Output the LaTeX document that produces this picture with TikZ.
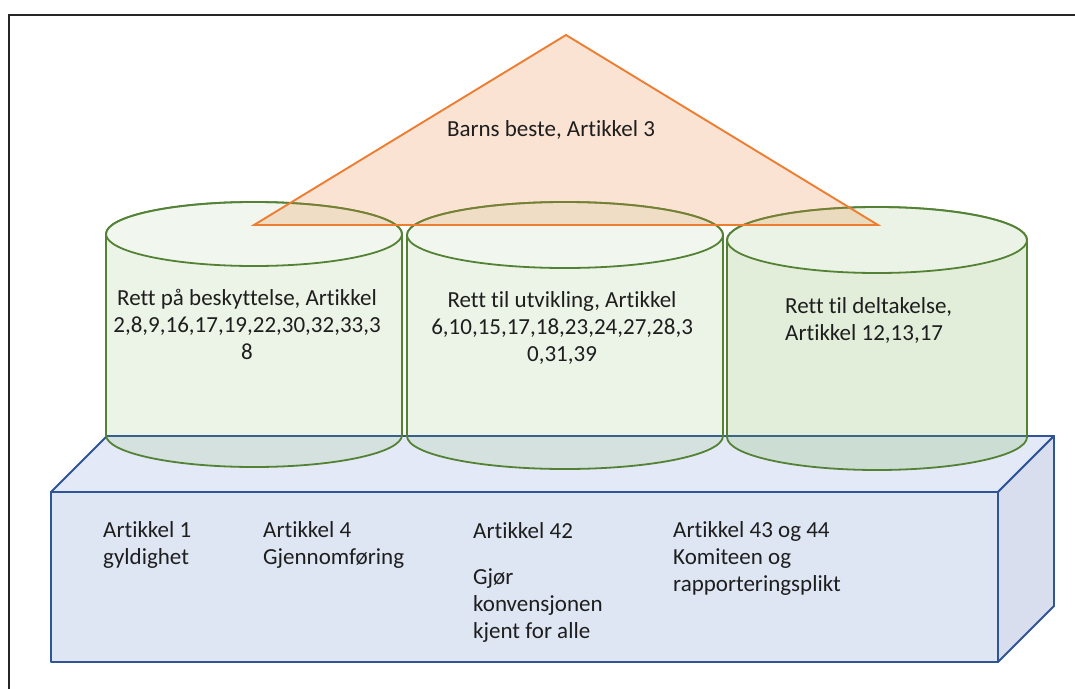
\documentclass[tikz,border=0pt]{standalone}
\usepackage{fontspec}
\setmainfont{Carlito}[Ligatures=NoCommon]
\definecolor{cylline}{RGB}{84,130,53}
\definecolor{cylfill}{RGB}{112,173,71}
\definecolor{boxline}{RGB}{47,85,151}
\definecolor{boxfront}{RGB}{222,229,243}
\definecolor{boxtop}{RGB}{227,233,246}
\definecolor{boxside}{RGB}{217,222,238}
\definecolor{triline}{RGB}{237,125,49}
\definecolor{txt}{RGB}{30,30,30}
\begin{document}
\begin{tikzpicture}[x=1pt,y=-1pt,
  frame/.style={line width=1.8pt,black!85},
  boxface/.style={draw=boxline,line width=1.9pt,line join=round},
  cylbody/.style={draw=cylline,line width=1.8pt,fill=cylfill,fill opacity=#1},
  cylbody/.default=0.13,
  cyltop/.style={draw=cylline,line width=1.8pt,fill=white,fill opacity=0.3},
  tri/.style={draw=triline,line width=1.9pt,fill=triline,fill opacity=0.21,line join=miter},
  lbl/.style={inner sep=0pt,text=txt,font=\fontsize{23}{27}\selectfont},
]
\useasboundingbox (0,0) rectangle (1075,688);
\fill[white] (0,0) rectangle (1075,688);
% frame
\coordinate (fbl) at (9,700);
\coordinate (ftl) at (9,15);
\coordinate (ftr) at (1080,15);
\draw[frame] (fbl) -- (ftl) -- (ftr);

% base box
\coordinate (bfl) at (51,492);
\coordinate (bfr) at (998,492);
\coordinate (bbl) at (51,662);
\coordinate (bbr) at (998,662);
\coordinate (bkl) at (107,436);
\coordinate (bkr) at (1054,436);
\coordinate (bsr) at (1054,606);
\path[boxface,fill=boxtop] (bfl) -- (bkl) -- (bkr) -- (bfr) -- cycle;
\path[boxface,fill=boxside] (bfr) -- (bkr) -- (bsr) -- (bbr) -- cycle;
\path[boxface,fill=boxfront] (bfl) rectangle (bbr);

% cylinder 1
\coordinate (c1t) at (254,234);
\path[cylbody] (106,234) -- (106,435) arc[start angle=180,end angle=360,x radius=148pt,y radius=32pt] -- (402,234) arc[start angle=0,end angle=180,x radius=148pt,y radius=32pt] -- cycle;
\path[cyltop] (c1t) ellipse[x radius=148pt,y radius=32pt];
% cylinder 2
\coordinate (c2t) at (565,235);
\path[cylbody] (407,235) -- (407,436) arc[start angle=180,end angle=360,x radius=158pt,y radius=33pt] -- (723,235) arc[start angle=0,end angle=180,x radius=158pt,y radius=33pt] -- cycle;
\path[cyltop] (c2t) ellipse[x radius=158pt,y radius=33pt];
% cylinder 3
\coordinate (c3t) at (877,240);
\path[cylbody=0.2] (727,240) -- (727,437) arc[start angle=180,end angle=360,x radius=150pt,y radius=33pt] -- (1027,240) arc[start angle=0,end angle=180,x radius=150pt,y radius=33pt] -- cycle;
\path[cyltop] (c3t) ellipse[x radius=150pt,y radius=33pt];

% triangle
\coordinate (ta) at (566,35);
\coordinate (tr) at (878,225);
\coordinate (tl) at (254,225);
\path[tri] (ta) -- (tr) -- (tl) -- cycle;

% texts
\node[lbl] (tbest) at (551,130) {Barns beste, Artikkel 3};
\node[lbl,align=center] (t1) at (247,324) {Rett på beskyttelse, Artikkel\\2,8,9,16,17,19,22,30,32,33,3\\8};
\node[lbl,align=center] (t2) at (562,328) {Rett til utvikling, Artikkel\\6,10,15,17,18,23,24,27,28,3\\0,31,39};
\node[lbl,align=left,anchor=west] (t3) at (785,320) {Rett til deltakelse,\\Artikkel 12,13,17};

\node[lbl,align=left,anchor=west] (b1) at (103,545) {Artikkel 1\\gyldighet};
\node[lbl,align=left,anchor=west] (b2) at (263,545) {Artikkel 4\\Gjennomføring};
\node[lbl,align=left,anchor=west] (b3) at (473,582) {Artikkel 42\\[19pt]Gjør\\konvensjonen\\kjent for alle};
\node[lbl,align=left,anchor=west] (b4) at (673,558) {Artikkel 43 og 44\\Komiteen og\\rapporteringsplikt};
\end{tikzpicture}
\end{document}
